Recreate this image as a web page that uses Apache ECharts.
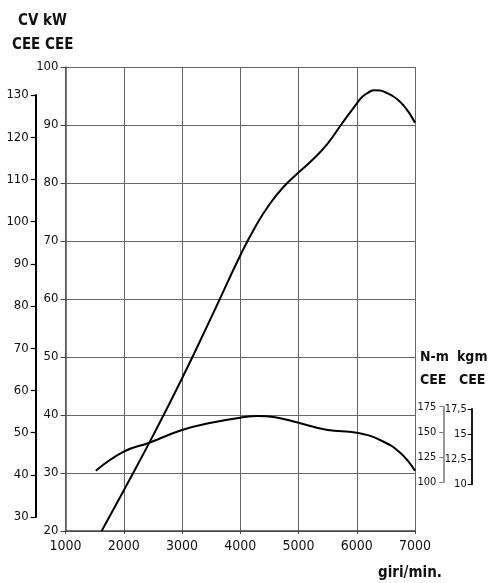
<!DOCTYPE html>
<html>
<head>
<meta charset="utf-8">
<script src="https://cdn.jsdelivr.net/npm/echarts@6/dist/echarts.min.js"></script>
<style>
html,body{margin:0;padding:0;background:#fff;}
#c{width:488px;height:583px;}
</style>
</head>
<body>
<div id="c"></div>
<script>
// ---- data ----
const rpmTicks = [1000, 2000, 3000, 4000, 5000, 6000, 7000];
const powerRpm = [1620, 2000, 2500, 3000, 3500, 4000, 4250, 4500, 4750, 5000, 5250, 5500, 5750, 6000, 6100, 6200, 6300, 6400, 6500, 6600, 6700, 6800, 6900, 7000];
const powerKW  = [20, 27, 36.4, 46.3, 56.8, 67.5, 72.3, 76.3, 79.4, 81.8, 84.1, 86.8, 90.3, 93.7, 94.9, 95.6, 96.0, 95.95, 95.6, 95.1, 94.4, 93.4, 92.1, 90.4];
const torqueRpm = [1520, 2000, 2440, 3000, 3500, 4000, 4300, 4600, 5000, 5500, 6000, 6400, 6750, 7000];
const torqueNm  = [111.5, 130.4, 139.3, 151.9, 159.1, 164.1, 165.8, 164.5, 159.1, 151.9, 149.2, 142, 129.1, 111.5];
const kwTicks  = [20, 30, 40, 50, 60, 70, 80, 90, 100];
const cvTicks  = [30, 40, 50, 60, 70, 80, 90, 100, 110, 120, 130];
const nmTicks  = [100, 125, 150, 175];
const kgmTicks = [10, 12.5, 15, 17.5];

const FONT = "'Liberation Sans Narrow','DejaVu Sans Condensed',sans-serif";
const INK = '#111';
const GRIDC = '#666';

const chart = echarts.init(document.getElementById('c'), null, {renderer: 'canvas'});

function pairs(xs, ys) { return xs.map((x, i) => [x, ys[i]]); }

const hiddenX = (gi) => ({gridIndex: gi, type: 'value', show: false, min: 0, max: 1});

const option = {
  backgroundColor: '#fff',
  animation: false,
  grid: [
    {left: 65.5, top: 67, width: 349.5, height: 464},   // main plot
    {left: 35.7, top: 95, width: 1, height: 422},       // CV scale
    {left: 443.3, top: 406.7, width: 1, height: 75.6},  // N-m scale
    {left: 471.7, top: 409, width: 1, height: 75.3}     // kgm scale
  ],
  xAxis: [
    {
      gridIndex: 0, type: 'value', min: rpmTicks[0], max: rpmTicks[rpmTicks.length - 1], interval: 1000,
      axisLine: {show: true, lineStyle: {color: '#444', width: 1.5}},
      axisTick: {show: true, length: 3, lineStyle: {color: '#444'}},
      axisLabel: {color: INK, fontFamily: FONT, fontSize: 14, margin: 8, formatter: v => String(v)},
      splitLine: {show: true, lineStyle: {color: GRIDC, width: 1}}
    },
    hiddenX(1), hiddenX(2), hiddenX(3)
  ],
  yAxis: [
    {
      gridIndex: 0, type: 'value', min: kwTicks[0], max: kwTicks[kwTicks.length - 1], interval: 10,
      axisLine: {show: true, lineStyle: {color: '#555', width: 1.5}},
      axisTick: {show: true, length: 5, lineStyle: {color: '#444'}},
      axisLabel: {color: INK, fontFamily: FONT, fontSize: 13, margin: 7},
      splitLine: {show: true, lineStyle: {color: GRIDC, width: 1}}
    },
    {
      gridIndex: 0, type: 'value', min: 51.7, max: 512, show: false, splitLine: {show: false}
    },
    {
      gridIndex: 1, type: 'value', min: cvTicks[0], max: cvTicks[cvTicks.length - 1], interval: 10,
      axisLine: {show: true, lineStyle: {color: '#000', width: 2}},
      axisTick: {show: true, length: 5, lineStyle: {color: '#000', width: 1.2}},
      axisLabel: {color: INK, fontFamily: FONT, fontSize: 13, margin: 7},
      splitLine: {show: false}
    },
    {
      gridIndex: 2, type: 'value', min: nmTicks[0], max: nmTicks[nmTicks.length - 1], interval: 25,
      axisLine: {show: true, lineStyle: {color: '#777', width: 1.5}},
      axisTick: {show: true, length: 4, lineStyle: {color: '#777'}},
      axisLabel: {color: INK, fontFamily: FONT, fontSize: 11, margin: 7},
      splitLine: {show: false}
    },
    {
      gridIndex: 3, type: 'value', min: kgmTicks[0], max: kgmTicks[kgmTicks.length - 1], interval: 2.5,
      axisLine: {show: true, lineStyle: {color: '#000', width: 1.8}},
      axisTick: {show: true, length: 4, lineStyle: {color: '#000'}},
      axisLabel: {color: INK, fontFamily: FONT, fontSize: 11, margin: 5,
        formatter: v => String(v).replace('.', ',')},
      splitLine: {show: false}
    }
  ],
  series: [
    {
      name: 'Potenza', type: 'line', xAxisIndex: 0, yAxisIndex: 0,
      data: pairs(powerRpm, powerKW), smooth: 0.5, showSymbol: false,
      lineStyle: {color: '#000', width: 2}, z: 5
    },
    {
      name: 'Coppia', type: 'line', xAxisIndex: 0, yAxisIndex: 1,
      data: pairs(torqueRpm, torqueNm), smooth: 0.45, showSymbol: false,
      lineStyle: {color: '#000', width: 2}, z: 5
    }
  ],
  graphic: [
    {type: 'text', left: 18, top: 14, style: {text: 'CV kW', font: "bold 15px " + FONT, fill: INK}},
    {type: 'text', left: 12, top: 38, style: {text: 'CEE CEE', font: "bold 15px " + FONT, fill: INK}},
    {type: 'text', left: 420, top: 350, style: {text: 'N-m', font: "bold 14px " + FONT, fill: INK}},
    {type: 'text', left: 457, top: 350, style: {text: 'kgm', font: "bold 14px " + FONT, fill: INK}},
    {type: 'text', left: 420, top: 373, style: {text: 'CEE', font: "bold 14px " + FONT, fill: INK}},
    {type: 'text', left: 459, top: 373, style: {text: 'CEE', font: "bold 14px " + FONT, fill: INK}},
    {type: 'text', left: 378, top: 566, style: {text: 'giri/min.', font: "bold 15px " + FONT, fill: INK}}
  ]
};
chart.setOption(option);
</script>
</body>
</html>
